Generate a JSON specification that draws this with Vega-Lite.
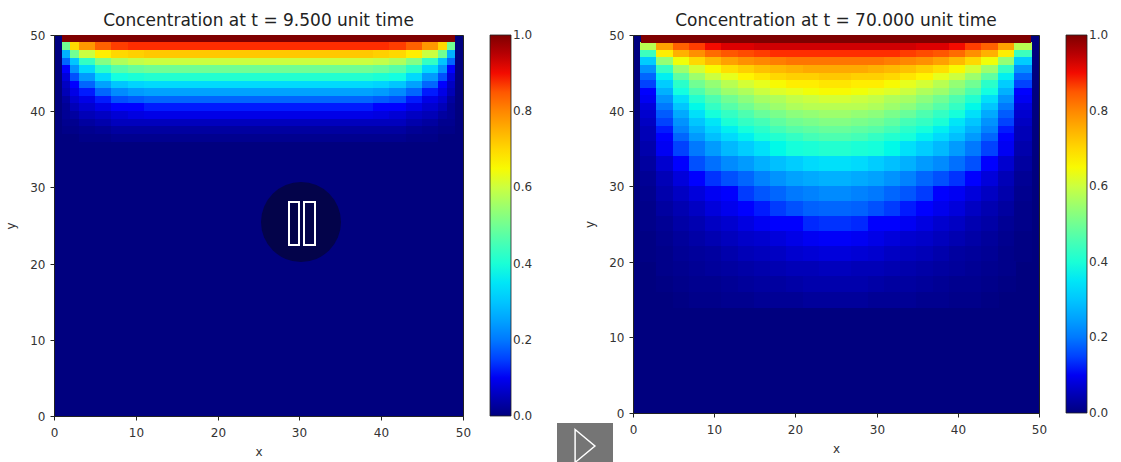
{"$schema":"https://vega.github.io/schema/vega-lite/v6.json","padding":{"left":4,"top":11,"right":0,"bottom":0},"background":"white","spacing":170,"bounds":"flush","resolve":{"scale":{"color":"independent"},"legend":{"color":"independent"}},"config":{"view":{"fill":"#00007f","stroke":"#222222"},"font":"DejaVu Sans","title":{"fontSize":17,"fontWeight":"normal","color":"#222222","offset":-1},"axis":{"grid":false,"labelFontSize":12,"titleFontSize":12,"titleFontWeight":"normal","labelColor":"#333333","titleColor":"#333333","domainColor":"#222222","tickColor":"#222222","tickSize":4,"labelPadding":7,"labelAngle":0,"tickCount":6,"labelFlush":false},"axisX":{"titlePadding":8},"axisY":{"labelPadding":5,"titlePadding":12},"legend":{"gradientThickness":21,"offset":27,"padding":0,"labelOffset":8,"labelFontSize":12,"labelColor":"#333333","gradientStrokeColor":"#222222","gradientStrokeWidth":0.8}},
"datasets":{
"T":[{"x":1,"b":49,"y":49.5,"c":1}],
"L":[{"x":1,"b":2,"y":48.5,"c":0.5},{"x":2,"b":3,"y":48.5,"c":0.7},{"x":3,"b":5,"y":48.5,"c":0.78},{"x":5,"b":7,"y":48.5,"c":0.84},{"x":7,"b":9,"y":48.5,"c":0.87},{"x":9,"b":11,"y":48.5,"c":0.88},{"x":11,"b":39,"y":48.5,"c":0.88},{"x":39,"b":41,"y":48.5,"c":0.88},{"x":41,"b":43,"y":48.5,"c":0.87},{"x":43,"b":45,"y":48.5,"c":0.84},{"x":45,"b":47,"y":48.5,"c":0.78},{"x":47,"b":48,"y":48.5,"c":0.7},{"x":48,"b":49,"y":48.5,"c":0.5},
{"x":1,"b":2,"y":47.5,"c":0.27},{"x":2,"b":3,"y":47.5,"c":0.5},{"x":3,"b":5,"y":47.5,"c":0.6},{"x":5,"b":7,"y":47.5,"c":0.67},{"x":7,"b":9,"y":47.5,"c":0.7},{"x":9,"b":11,"y":47.5,"c":0.71},{"x":11,"b":39,"y":47.5,"c":0.72},{"x":39,"b":41,"y":47.5,"c":0.71},{"x":41,"b":43,"y":47.5,"c":0.7},{"x":43,"b":45,"y":47.5,"c":0.67},{"x":45,"b":47,"y":47.5,"c":0.6},{"x":47,"b":48,"y":47.5,"c":0.5},{"x":48,"b":49,"y":47.5,"c":0.27},
{"x":1,"b":2,"y":46.5,"c":0.18},{"x":2,"b":3,"y":46.5,"c":0.3},{"x":3,"b":5,"y":46.5,"c":0.43},{"x":5,"b":7,"y":46.5,"c":0.52},{"x":7,"b":9,"y":46.5,"c":0.57},{"x":9,"b":11,"y":46.5,"c":0.59},{"x":11,"b":39,"y":46.5,"c":0.6},{"x":39,"b":41,"y":46.5,"c":0.59},{"x":41,"b":43,"y":46.5,"c":0.57},{"x":43,"b":45,"y":46.5,"c":0.52},{"x":45,"b":47,"y":46.5,"c":0.43},{"x":47,"b":48,"y":46.5,"c":0.3},{"x":48,"b":49,"y":46.5,"c":0.18},
{"x":1,"b":2,"y":45.5,"c":0.11},{"x":2,"b":3,"y":45.5,"c":0.23},{"x":3,"b":5,"y":45.5,"c":0.33},{"x":5,"b":7,"y":45.5,"c":0.42},{"x":7,"b":9,"y":45.5,"c":0.47},{"x":9,"b":11,"y":45.5,"c":0.49},{"x":11,"b":39,"y":45.5,"c":0.5},{"x":39,"b":41,"y":45.5,"c":0.49},{"x":41,"b":43,"y":45.5,"c":0.47},{"x":43,"b":45,"y":45.5,"c":0.42},{"x":45,"b":47,"y":45.5,"c":0.33},{"x":47,"b":48,"y":45.5,"c":0.23},{"x":48,"b":49,"y":45.5,"c":0.11},
{"x":1,"b":2,"y":44.5,"c":0.08},{"x":2,"b":3,"y":44.5,"c":0.16},{"x":3,"b":5,"y":44.5,"c":0.24},{"x":5,"b":7,"y":44.5,"c":0.33},{"x":7,"b":9,"y":44.5,"c":0.38},{"x":9,"b":11,"y":44.5,"c":0.4},{"x":11,"b":39,"y":44.5,"c":0.41},{"x":39,"b":41,"y":44.5,"c":0.4},{"x":41,"b":43,"y":44.5,"c":0.38},{"x":43,"b":45,"y":44.5,"c":0.33},{"x":45,"b":47,"y":44.5,"c":0.24},{"x":47,"b":48,"y":44.5,"c":0.16},{"x":48,"b":49,"y":44.5,"c":0.08},
{"x":1,"b":2,"y":43.5,"c":0.06},{"x":2,"b":3,"y":43.5,"c":0.12},{"x":3,"b":5,"y":43.5,"c":0.18},{"x":5,"b":7,"y":43.5,"c":0.25},{"x":7,"b":9,"y":43.5,"c":0.3},{"x":9,"b":11,"y":43.5,"c":0.32},{"x":11,"b":39,"y":43.5,"c":0.33},{"x":39,"b":41,"y":43.5,"c":0.32},{"x":41,"b":43,"y":43.5,"c":0.3},{"x":43,"b":45,"y":43.5,"c":0.25},{"x":45,"b":47,"y":43.5,"c":0.18},{"x":47,"b":48,"y":43.5,"c":0.12},{"x":48,"b":49,"y":43.5,"c":0.06},
{"x":1,"b":2,"y":42.5,"c":0.05},{"x":2,"b":3,"y":42.5,"c":0.09},{"x":3,"b":5,"y":42.5,"c":0.13},{"x":5,"b":7,"y":42.5,"c":0.18},{"x":7,"b":9,"y":42.5,"c":0.22},{"x":9,"b":11,"y":42.5,"c":0.24},{"x":11,"b":39,"y":42.5,"c":0.25},{"x":39,"b":41,"y":42.5,"c":0.24},{"x":41,"b":43,"y":42.5,"c":0.22},{"x":43,"b":45,"y":42.5,"c":0.18},{"x":45,"b":47,"y":42.5,"c":0.13},{"x":47,"b":48,"y":42.5,"c":0.09},{"x":48,"b":49,"y":42.5,"c":0.05},
{"x":1,"b":2,"y":41.5,"c":0.03},{"x":2,"b":3,"y":41.5,"c":0.07},{"x":3,"b":5,"y":41.5,"c":0.09},{"x":5,"b":7,"y":41.5,"c":0.13},{"x":7,"b":9,"y":41.5,"c":0.16},{"x":9,"b":11,"y":41.5,"c":0.17},{"x":11,"b":39,"y":41.5,"c":0.18},{"x":39,"b":41,"y":41.5,"c":0.17},{"x":41,"b":43,"y":41.5,"c":0.16},{"x":43,"b":45,"y":41.5,"c":0.13},{"x":45,"b":47,"y":41.5,"c":0.09},{"x":47,"b":48,"y":41.5,"c":0.07},{"x":48,"b":49,"y":41.5,"c":0.03},
{"x":1,"b":2,"y":40.5,"c":0.02},{"x":2,"b":3,"y":40.5,"c":0.05},{"x":3,"b":5,"y":40.5,"c":0.07},{"x":5,"b":7,"y":40.5,"c":0.09},{"x":7,"b":9,"y":40.5,"c":0.11},{"x":9,"b":11,"y":40.5,"c":0.12},{"x":11,"b":39,"y":40.5,"c":0.13},{"x":39,"b":41,"y":40.5,"c":0.12},{"x":41,"b":43,"y":40.5,"c":0.11},{"x":43,"b":45,"y":40.5,"c":0.09},{"x":45,"b":47,"y":40.5,"c":0.07},{"x":47,"b":48,"y":40.5,"c":0.05},{"x":48,"b":49,"y":40.5,"c":0.02},
{"x":1,"b":2,"y":39.5,"c":0.02},{"x":2,"b":3,"y":39.5,"c":0.03},{"x":3,"b":5,"y":39.5,"c":0.05},{"x":5,"b":7,"y":39.5,"c":0.06},{"x":7,"b":9,"y":39.5,"c":0.075},{"x":9,"b":11,"y":39.5,"c":0.085},{"x":11,"b":39,"y":39.5,"c":0.09},{"x":39,"b":41,"y":39.5,"c":0.085},{"x":41,"b":43,"y":39.5,"c":0.075},{"x":43,"b":45,"y":39.5,"c":0.06},{"x":45,"b":47,"y":39.5,"c":0.05},{"x":47,"b":48,"y":39.5,"c":0.03},{"x":48,"b":49,"y":39.5,"c":0.02},
{"x":1,"b":3,"y":38.5,"c":0.015},{"x":3,"b":5,"y":38.5,"c":0.03},{"x":5,"b":7,"y":38.5,"c":0.04},{"x":7,"b":43,"y":38.5,"c":0.055},{"x":43,"b":45,"y":38.5,"c":0.04},{"x":45,"b":47,"y":38.5,"c":0.03},{"x":47,"b":49,"y":38.5,"c":0.015},
{"x":1,"b":3,"y":37.5,"c":0.008},{"x":3,"b":5,"y":37.5,"c":0.015},{"x":5,"b":7,"y":37.5,"c":0.02},{"x":7,"b":43,"y":37.5,"c":0.03},{"x":43,"b":45,"y":37.5,"c":0.02},{"x":45,"b":47,"y":37.5,"c":0.015},{"x":47,"b":49,"y":37.5,"c":0.008},
{"x":3,"b":7,"y":36.5,"c":0.008},{"x":7,"b":43,"y":36.5,"c":0.015},{"x":43,"b":47,"y":36.5,"c":0.008}],
"R1":[
{"x":2,"y":48.5,"c":0.58},{"x":4,"y":48.5,"c":0.77},{"x":6,"y":48.5,"c":0.84},{"x":8,"y":48.5,"c":0.87},{"x":10,"y":48.5,"c":0.9},{"x":12,"y":48.5,"c":0.92},{"x":14,"y":48.5,"c":0.92},{"x":16,"y":48.5,"c":0.93},{"x":18,"y":48.5,"c":0.93},{"x":20,"y":48.5,"c":0.93},{"x":22,"y":48.5,"c":0.93},{"x":24,"y":48.5,"c":0.93},{"x":26,"y":48.5,"c":0.93},{"x":28,"y":48.5,"c":0.93},{"x":30,"y":48.5,"c":0.93},{"x":32,"y":48.5,"c":0.93},{"x":34,"y":48.5,"c":0.93},{"x":36,"y":48.5,"c":0.92},{"x":38,"y":48.5,"c":0.92},{"x":40,"y":48.5,"c":0.9},{"x":42,"y":48.5,"c":0.87},{"x":44,"y":48.5,"c":0.84},{"x":46,"y":48.5,"c":0.77},{"x":48,"y":48.5,"c":0.58},
{"x":2,"y":47.5,"c":0.44},{"x":4,"y":47.5,"c":0.67},{"x":6,"y":47.5,"c":0.75},{"x":8,"y":47.5,"c":0.79},{"x":10,"y":47.5,"c":0.83},{"x":12,"y":47.5,"c":0.85},{"x":14,"y":47.5,"c":0.86},{"x":16,"y":47.5,"c":0.87},{"x":18,"y":47.5,"c":0.88},{"x":20,"y":47.5,"c":0.88},{"x":22,"y":47.5,"c":0.88},{"x":24,"y":47.5,"c":0.88},{"x":26,"y":47.5,"c":0.88},{"x":28,"y":47.5,"c":0.88},{"x":30,"y":47.5,"c":0.88},{"x":32,"y":47.5,"c":0.88},{"x":34,"y":47.5,"c":0.87},{"x":36,"y":47.5,"c":0.86},{"x":38,"y":47.5,"c":0.85},{"x":40,"y":47.5,"c":0.83},{"x":42,"y":47.5,"c":0.79},{"x":44,"y":47.5,"c":0.75},{"x":46,"y":47.5,"c":0.67},{"x":48,"y":47.5,"c":0.44},
{"x":2,"y":46.5,"c":0.31},{"x":4,"y":46.5,"c":0.54},{"x":6,"y":46.5,"c":0.64},{"x":8,"y":46.5,"c":0.7},{"x":10,"y":46.5,"c":0.74},{"x":12,"y":46.5,"c":0.77},{"x":14,"y":46.5,"c":0.79},{"x":16,"y":46.5,"c":0.8},{"x":18,"y":46.5,"c":0.81},{"x":20,"y":46.5,"c":0.82},{"x":22,"y":46.5,"c":0.82},{"x":24,"y":46.5,"c":0.82},{"x":26,"y":46.5,"c":0.82},{"x":28,"y":46.5,"c":0.82},{"x":30,"y":46.5,"c":0.82},{"x":32,"y":46.5,"c":0.81},{"x":34,"y":46.5,"c":0.8},{"x":36,"y":46.5,"c":0.79},{"x":38,"y":46.5,"c":0.77},{"x":40,"y":46.5,"c":0.74},{"x":42,"y":46.5,"c":0.7},{"x":44,"y":46.5,"c":0.64},{"x":46,"y":46.5,"c":0.54},{"x":48,"y":46.5,"c":0.31},
{"x":2,"y":45.5,"c":0.23},{"x":4,"y":45.5,"c":0.43},{"x":6,"y":45.5,"c":0.55},{"x":8,"y":45.5,"c":0.61},{"x":10,"y":45.5,"c":0.65},{"x":12,"y":45.5,"c":0.69},{"x":14,"y":45.5,"c":0.71},{"x":16,"y":45.5,"c":0.73},{"x":18,"y":45.5,"c":0.74},{"x":20,"y":45.5,"c":0.75},{"x":22,"y":45.5,"c":0.76},{"x":24,"y":45.5,"c":0.76},{"x":26,"y":45.5,"c":0.76},{"x":28,"y":45.5,"c":0.76},{"x":30,"y":45.5,"c":0.75},{"x":32,"y":45.5,"c":0.74},{"x":34,"y":45.5,"c":0.73},{"x":36,"y":45.5,"c":0.71},{"x":38,"y":45.5,"c":0.69},{"x":40,"y":45.5,"c":0.65},{"x":42,"y":45.5,"c":0.61},{"x":44,"y":45.5,"c":0.55},{"x":46,"y":45.5,"c":0.43},{"x":48,"y":45.5,"c":0.23},
{"x":2,"y":44.5,"c":0.18},{"x":4,"y":44.5,"c":0.36},{"x":6,"y":44.5,"c":0.48},{"x":8,"y":44.5,"c":0.55},{"x":10,"y":44.5,"c":0.6},{"x":12,"y":44.5,"c":0.63},{"x":14,"y":44.5,"c":0.66},{"x":16,"y":44.5,"c":0.68},{"x":18,"y":44.5,"c":0.7},{"x":20,"y":44.5,"c":0.71},{"x":22,"y":44.5,"c":0.71},{"x":24,"y":44.5,"c":0.72},{"x":26,"y":44.5,"c":0.72},{"x":28,"y":44.5,"c":0.71},{"x":30,"y":44.5,"c":0.71},{"x":32,"y":44.5,"c":0.7},{"x":34,"y":44.5,"c":0.68},{"x":36,"y":44.5,"c":0.66},{"x":38,"y":44.5,"c":0.63},{"x":40,"y":44.5,"c":0.6},{"x":42,"y":44.5,"c":0.55},{"x":44,"y":44.5,"c":0.48},{"x":46,"y":44.5,"c":0.36},{"x":48,"y":44.5,"c":0.18},
{"x":2,"y":43.5,"c":0.15},{"x":4,"y":43.5,"c":0.31},{"x":6,"y":43.5,"c":0.42},{"x":8,"y":43.5,"c":0.5},{"x":10,"y":43.5,"c":0.54},{"x":12,"y":43.5,"c":0.58},{"x":14,"y":43.5,"c":0.61},{"x":16,"y":43.5,"c":0.63},{"x":18,"y":43.5,"c":0.65},{"x":20,"y":43.5,"c":0.67},{"x":22,"y":43.5,"c":0.67},{"x":24,"y":43.5,"c":0.68},{"x":26,"y":43.5,"c":0.68},{"x":28,"y":43.5,"c":0.67},{"x":30,"y":43.5,"c":0.67},{"x":32,"y":43.5,"c":0.65},{"x":34,"y":43.5,"c":0.63},{"x":36,"y":43.5,"c":0.61},{"x":38,"y":43.5,"c":0.58},{"x":40,"y":43.5,"c":0.54},{"x":42,"y":43.5,"c":0.5},{"x":44,"y":43.5,"c":0.42},{"x":46,"y":43.5,"c":0.31},{"x":48,"y":43.5,"c":0.15},
{"x":2,"y":42.5,"c":0.12},{"x":4,"y":42.5,"c":0.27},{"x":6,"y":42.5,"c":0.38},{"x":8,"y":42.5,"c":0.46},{"x":10,"y":42.5,"c":0.51},{"x":12,"y":42.5,"c":0.55},{"x":14,"y":42.5,"c":0.57},{"x":16,"y":42.5,"c":0.6},{"x":18,"y":42.5,"c":0.62},{"x":20,"y":42.5,"c":0.63},{"x":22,"y":42.5,"c":0.64},{"x":24,"y":42.5,"c":0.65},{"x":26,"y":42.5,"c":0.65},{"x":28,"y":42.5,"c":0.64},{"x":30,"y":42.5,"c":0.63},{"x":32,"y":42.5,"c":0.62},{"x":34,"y":42.5,"c":0.6},{"x":36,"y":42.5,"c":0.57},{"x":38,"y":42.5,"c":0.55},{"x":40,"y":42.5,"c":0.51},{"x":42,"y":42.5,"c":0.46},{"x":44,"y":42.5,"c":0.38},{"x":46,"y":42.5,"c":0.27},{"x":48,"y":42.5,"c":0.12},
{"x":2,"y":41.5,"c":0.1},{"x":4,"y":41.5,"c":0.23},{"x":6,"y":41.5,"c":0.34},{"x":8,"y":41.5,"c":0.41},{"x":10,"y":41.5,"c":0.46},{"x":12,"y":41.5,"c":0.5},{"x":14,"y":41.5,"c":0.53},{"x":16,"y":41.5,"c":0.56},{"x":18,"y":41.5,"c":0.57},{"x":20,"y":41.5,"c":0.59},{"x":22,"y":41.5,"c":0.6},{"x":24,"y":41.5,"c":0.61},{"x":26,"y":41.5,"c":0.61},{"x":28,"y":41.5,"c":0.6},{"x":30,"y":41.5,"c":0.59},{"x":32,"y":41.5,"c":0.57},{"x":34,"y":41.5,"c":0.56},{"x":36,"y":41.5,"c":0.53},{"x":38,"y":41.5,"c":0.5},{"x":40,"y":41.5,"c":0.46},{"x":42,"y":41.5,"c":0.41},{"x":44,"y":41.5,"c":0.34},{"x":46,"y":41.5,"c":0.23},{"x":48,"y":41.5,"c":0.1},
{"x":2,"y":40.5,"c":0.08},{"x":4,"y":40.5,"c":0.2},{"x":6,"y":40.5,"c":0.3},{"x":8,"y":40.5,"c":0.37},{"x":10,"y":40.5,"c":0.43},{"x":12,"y":40.5,"c":0.47},{"x":14,"y":40.5,"c":0.5},{"x":16,"y":40.5,"c":0.53},{"x":18,"y":40.5,"c":0.55},{"x":20,"y":40.5,"c":0.57},{"x":22,"y":40.5,"c":0.58},{"x":24,"y":40.5,"c":0.58},{"x":26,"y":40.5,"c":0.58},{"x":28,"y":40.5,"c":0.58},{"x":30,"y":40.5,"c":0.57},{"x":32,"y":40.5,"c":0.55},{"x":34,"y":40.5,"c":0.53},{"x":36,"y":40.5,"c":0.5},{"x":38,"y":40.5,"c":0.47},{"x":40,"y":40.5,"c":0.43},{"x":42,"y":40.5,"c":0.37},{"x":44,"y":40.5,"c":0.3},{"x":46,"y":40.5,"c":0.2},{"x":48,"y":40.5,"c":0.08},
{"x":2,"y":39.5,"c":0.07},{"x":4,"y":39.5,"c":0.17},{"x":6,"y":39.5,"c":0.26},{"x":8,"y":39.5,"c":0.34},{"x":10,"y":39.5,"c":0.39},{"x":12,"y":39.5,"c":0.43},{"x":14,"y":39.5,"c":0.46},{"x":16,"y":39.5,"c":0.49},{"x":18,"y":39.5,"c":0.51},{"x":20,"y":39.5,"c":0.53},{"x":22,"y":39.5,"c":0.54},{"x":24,"y":39.5,"c":0.55},{"x":26,"y":39.5,"c":0.55},{"x":28,"y":39.5,"c":0.54},{"x":30,"y":39.5,"c":0.53},{"x":32,"y":39.5,"c":0.51},{"x":34,"y":39.5,"c":0.49},{"x":36,"y":39.5,"c":0.46},{"x":38,"y":39.5,"c":0.43},{"x":40,"y":39.5,"c":0.39},{"x":42,"y":39.5,"c":0.34},{"x":44,"y":39.5,"c":0.26},{"x":46,"y":39.5,"c":0.17},{"x":48,"y":39.5,"c":0.07},
{"x":2,"y":38.5,"c":0.06},{"x":4,"y":38.5,"c":0.15},{"x":6,"y":38.5,"c":0.23},{"x":8,"y":38.5,"c":0.3},{"x":10,"y":38.5,"c":0.35},{"x":12,"y":38.5,"c":0.4},{"x":14,"y":38.5,"c":0.43},{"x":16,"y":38.5,"c":0.45},{"x":18,"y":38.5,"c":0.48},{"x":20,"y":38.5,"c":0.5},{"x":22,"y":38.5,"c":0.51},{"x":24,"y":38.5,"c":0.52},{"x":26,"y":38.5,"c":0.52},{"x":28,"y":38.5,"c":0.51},{"x":30,"y":38.5,"c":0.5},{"x":32,"y":38.5,"c":0.48},{"x":34,"y":38.5,"c":0.45},{"x":36,"y":38.5,"c":0.43},{"x":38,"y":38.5,"c":0.4},{"x":40,"y":38.5,"c":0.35},{"x":42,"y":38.5,"c":0.3},{"x":44,"y":38.5,"c":0.23},{"x":46,"y":38.5,"c":0.15},{"x":48,"y":38.5,"c":0.06},
{"x":2,"y":37.5,"c":0.05},{"x":4,"y":37.5,"c":0.13},{"x":6,"y":37.5,"c":0.21},{"x":8,"y":37.5,"c":0.27},{"x":10,"y":37.5,"c":0.32},{"x":12,"y":37.5,"c":0.36},{"x":14,"y":37.5,"c":0.39},{"x":16,"y":37.5,"c":0.42},{"x":18,"y":37.5,"c":0.45},{"x":20,"y":37.5,"c":0.47},{"x":22,"y":37.5,"c":0.48},{"x":24,"y":37.5,"c":0.49},{"x":26,"y":37.5,"c":0.49},{"x":28,"y":37.5,"c":0.48},{"x":30,"y":37.5,"c":0.47},{"x":32,"y":37.5,"c":0.45},{"x":34,"y":37.5,"c":0.42},{"x":36,"y":37.5,"c":0.39},{"x":38,"y":37.5,"c":0.36},{"x":40,"y":37.5,"c":0.32},{"x":42,"y":37.5,"c":0.27},{"x":44,"y":37.5,"c":0.21},{"x":46,"y":37.5,"c":0.13},{"x":48,"y":37.5,"c":0.05},
{"x":2,"y":36.5,"c":0.05},{"x":4,"y":36.5,"c":0.12},{"x":6,"y":36.5,"c":0.18},{"x":8,"y":36.5,"c":0.24},{"x":10,"y":36.5,"c":0.29},{"x":12,"y":36.5,"c":0.33},{"x":14,"y":36.5,"c":0.36},{"x":16,"y":36.5,"c":0.39},{"x":18,"y":36.5,"c":0.41},{"x":20,"y":36.5,"c":0.43},{"x":22,"y":36.5,"c":0.45},{"x":24,"y":36.5,"c":0.46},{"x":26,"y":36.5,"c":0.46},{"x":28,"y":36.5,"c":0.45},{"x":30,"y":36.5,"c":0.43},{"x":32,"y":36.5,"c":0.41},{"x":34,"y":36.5,"c":0.39},{"x":36,"y":36.5,"c":0.36},{"x":38,"y":36.5,"c":0.33},{"x":40,"y":36.5,"c":0.29},{"x":42,"y":36.5,"c":0.24},{"x":44,"y":36.5,"c":0.18},{"x":46,"y":36.5,"c":0.12},{"x":48,"y":36.5,"c":0.05}],
"R2":[
{"x":2,"y":35,"c":0.04},{"x":4,"y":35,"c":0.1},{"x":6,"y":35,"c":0.15},{"x":8,"y":35,"c":0.2},{"x":10,"y":35,"c":0.24},{"x":12,"y":35,"c":0.28},{"x":14,"y":35,"c":0.31},{"x":16,"y":35,"c":0.34},{"x":18,"y":35,"c":0.37},{"x":20,"y":35,"c":0.39},{"x":22,"y":35,"c":0.4},{"x":24,"y":35,"c":0.41},{"x":26,"y":35,"c":0.41},{"x":28,"y":35,"c":0.4},{"x":30,"y":35,"c":0.39},{"x":32,"y":35,"c":0.37},{"x":34,"y":35,"c":0.34},{"x":36,"y":35,"c":0.31},{"x":38,"y":35,"c":0.28},{"x":40,"y":35,"c":0.24},{"x":42,"y":35,"c":0.2},{"x":44,"y":35,"c":0.15},{"x":46,"y":35,"c":0.1},{"x":48,"y":35,"c":0.04},
{"x":2,"y":33,"c":0.03},{"x":4,"y":33,"c":0.07},{"x":6,"y":33,"c":0.11},{"x":8,"y":33,"c":0.16},{"x":10,"y":33,"c":0.19},{"x":12,"y":33,"c":0.22},{"x":14,"y":33,"c":0.24},{"x":16,"y":33,"c":0.27},{"x":18,"y":33,"c":0.29},{"x":20,"y":33,"c":0.31},{"x":22,"y":33,"c":0.33},{"x":24,"y":33,"c":0.34},{"x":26,"y":33,"c":0.34},{"x":28,"y":33,"c":0.33},{"x":30,"y":33,"c":0.31},{"x":32,"y":33,"c":0.29},{"x":34,"y":33,"c":0.27},{"x":36,"y":33,"c":0.24},{"x":38,"y":33,"c":0.22},{"x":40,"y":33,"c":0.19},{"x":42,"y":33,"c":0.16},{"x":44,"y":33,"c":0.11},{"x":46,"y":33,"c":0.07},{"x":48,"y":33,"c":0.03},
{"x":2,"y":31,"c":0.02},{"x":4,"y":31,"c":0.05},{"x":6,"y":31,"c":0.08},{"x":8,"y":31,"c":0.11},{"x":10,"y":31,"c":0.14},{"x":12,"y":31,"c":0.16},{"x":14,"y":31,"c":0.18},{"x":16,"y":31,"c":0.21},{"x":18,"y":31,"c":0.23},{"x":20,"y":31,"c":0.25},{"x":22,"y":31,"c":0.26},{"x":24,"y":31,"c":0.27},{"x":26,"y":31,"c":0.27},{"x":28,"y":31,"c":0.26},{"x":30,"y":31,"c":0.25},{"x":32,"y":31,"c":0.23},{"x":34,"y":31,"c":0.21},{"x":36,"y":31,"c":0.18},{"x":38,"y":31,"c":0.16},{"x":40,"y":31,"c":0.14},{"x":42,"y":31,"c":0.11},{"x":44,"y":31,"c":0.08},{"x":46,"y":31,"c":0.05},{"x":48,"y":31,"c":0.02},
{"x":2,"y":29,"c":0.015},{"x":4,"y":29,"c":0.04},{"x":6,"y":29,"c":0.06},{"x":8,"y":29,"c":0.08},{"x":10,"y":29,"c":0.1},{"x":12,"y":29,"c":0.125},{"x":14,"y":29,"c":0.145},{"x":16,"y":29,"c":0.165},{"x":18,"y":29,"c":0.18},{"x":20,"y":29,"c":0.2},{"x":22,"y":29,"c":0.21},{"x":24,"y":29,"c":0.22},{"x":26,"y":29,"c":0.22},{"x":28,"y":29,"c":0.21},{"x":30,"y":29,"c":0.2},{"x":32,"y":29,"c":0.18},{"x":34,"y":29,"c":0.165},{"x":36,"y":29,"c":0.145},{"x":38,"y":29,"c":0.125},{"x":40,"y":29,"c":0.1},{"x":42,"y":29,"c":0.08},{"x":44,"y":29,"c":0.06},{"x":46,"y":29,"c":0.04},{"x":48,"y":29,"c":0.015},
{"x":2,"y":27,"c":0.01},{"x":4,"y":27,"c":0.03},{"x":6,"y":27,"c":0.045},{"x":8,"y":27,"c":0.06},{"x":10,"y":27,"c":0.08},{"x":12,"y":27,"c":0.095},{"x":14,"y":27,"c":0.11},{"x":16,"y":27,"c":0.13},{"x":18,"y":27,"c":0.145},{"x":20,"y":27,"c":0.16},{"x":22,"y":27,"c":0.175},{"x":24,"y":27,"c":0.18},{"x":26,"y":27,"c":0.18},{"x":28,"y":27,"c":0.175},{"x":30,"y":27,"c":0.16},{"x":32,"y":27,"c":0.145},{"x":34,"y":27,"c":0.13},{"x":36,"y":27,"c":0.11},{"x":38,"y":27,"c":0.095},{"x":40,"y":27,"c":0.08},{"x":42,"y":27,"c":0.06},{"x":44,"y":27,"c":0.045},{"x":46,"y":27,"c":0.03},{"x":48,"y":27,"c":0.01},
{"x":2,"y":25,"c":0.01},{"x":4,"y":25,"c":0.02},{"x":6,"y":25,"c":0.035},{"x":8,"y":25,"c":0.045},{"x":10,"y":25,"c":0.06},{"x":12,"y":25,"c":0.07},{"x":14,"y":25,"c":0.085},{"x":16,"y":25,"c":0.1},{"x":18,"y":25,"c":0.115},{"x":20,"y":25,"c":0.125},{"x":22,"y":25,"c":0.135},{"x":24,"y":25,"c":0.14},{"x":26,"y":25,"c":0.14},{"x":28,"y":25,"c":0.135},{"x":30,"y":25,"c":0.125},{"x":32,"y":25,"c":0.115},{"x":34,"y":25,"c":0.1},{"x":36,"y":25,"c":0.085},{"x":38,"y":25,"c":0.07},{"x":40,"y":25,"c":0.06},{"x":42,"y":25,"c":0.045},{"x":44,"y":25,"c":0.035},{"x":46,"y":25,"c":0.02},{"x":48,"y":25,"c":0.01},
{"x":2,"y":23,"c":0.005},{"x":4,"y":23,"c":0.015},{"x":6,"y":23,"c":0.025},{"x":8,"y":23,"c":0.035},{"x":10,"y":23,"c":0.045},{"x":12,"y":23,"c":0.055},{"x":14,"y":23,"c":0.065},{"x":16,"y":23,"c":0.07},{"x":18,"y":23,"c":0.08},{"x":20,"y":23,"c":0.09},{"x":22,"y":23,"c":0.1},{"x":24,"y":23,"c":0.105},{"x":26,"y":23,"c":0.105},{"x":28,"y":23,"c":0.1},{"x":30,"y":23,"c":0.09},{"x":32,"y":23,"c":0.08},{"x":34,"y":23,"c":0.07},{"x":36,"y":23,"c":0.065},{"x":38,"y":23,"c":0.055},{"x":40,"y":23,"c":0.045},{"x":42,"y":23,"c":0.035},{"x":44,"y":23,"c":0.025},{"x":46,"y":23,"c":0.015},{"x":48,"y":23,"c":0.005},
{"x":2,"y":21,"c":0.005},{"x":4,"y":21,"c":0.01},{"x":6,"y":21,"c":0.02},{"x":8,"y":21,"c":0.025},{"x":10,"y":21,"c":0.03},{"x":12,"y":21,"c":0.04},{"x":14,"y":21,"c":0.05},{"x":16,"y":21,"c":0.055},{"x":18,"y":21,"c":0.06},{"x":20,"y":21,"c":0.07},{"x":22,"y":21,"c":0.075},{"x":24,"y":21,"c":0.08},{"x":26,"y":21,"c":0.08},{"x":28,"y":21,"c":0.075},{"x":30,"y":21,"c":0.07},{"x":32,"y":21,"c":0.06},{"x":34,"y":21,"c":0.055},{"x":36,"y":21,"c":0.05},{"x":38,"y":21,"c":0.04},{"x":40,"y":21,"c":0.03},{"x":42,"y":21,"c":0.025},{"x":44,"y":21,"c":0.02},{"x":46,"y":21,"c":0.01},{"x":48,"y":21,"c":0.005},
{"x":4,"y":19,"c":0.01},{"x":6,"y":19,"c":0.015},{"x":8,"y":19,"c":0.02},{"x":10,"y":19,"c":0.025},{"x":12,"y":19,"c":0.03},{"x":14,"y":19,"c":0.035},{"x":16,"y":19,"c":0.04},{"x":18,"y":19,"c":0.045},{"x":20,"y":19,"c":0.05},{"x":22,"y":19,"c":0.05},{"x":24,"y":19,"c":0.055},{"x":26,"y":19,"c":0.055},{"x":28,"y":19,"c":0.05},{"x":30,"y":19,"c":0.05},{"x":32,"y":19,"c":0.045},{"x":34,"y":19,"c":0.04},{"x":36,"y":19,"c":0.035},{"x":38,"y":19,"c":0.03},{"x":40,"y":19,"c":0.025},{"x":42,"y":19,"c":0.02},{"x":44,"y":19,"c":0.015},{"x":46,"y":19,"c":0.01},
{"x":4,"y":17,"c":0.005},{"x":6,"y":17,"c":0.01},{"x":8,"y":17,"c":0.015},{"x":10,"y":17,"c":0.015},{"x":12,"y":17,"c":0.02},{"x":14,"y":17,"c":0.025},{"x":16,"y":17,"c":0.03},{"x":18,"y":17,"c":0.03},{"x":20,"y":17,"c":0.035},{"x":22,"y":17,"c":0.04},{"x":24,"y":17,"c":0.04},{"x":26,"y":17,"c":0.04},{"x":28,"y":17,"c":0.04},{"x":30,"y":17,"c":0.035},{"x":32,"y":17,"c":0.03},{"x":34,"y":17,"c":0.03},{"x":36,"y":17,"c":0.025},{"x":38,"y":17,"c":0.02},{"x":40,"y":17,"c":0.015},{"x":42,"y":17,"c":0.015},{"x":44,"y":17,"c":0.01},{"x":46,"y":17,"c":0.005},
{"x":6,"y":15,"c":0.005},{"x":8,"y":15,"c":0.01},{"x":10,"y":15,"c":0.01},{"x":12,"y":15,"c":0.015},{"x":14,"y":15,"c":0.015},{"x":16,"y":15,"c":0.02},{"x":18,"y":15,"c":0.02},{"x":20,"y":15,"c":0.02},{"x":22,"y":15,"c":0.025},{"x":24,"y":15,"c":0.025},{"x":26,"y":15,"c":0.025},{"x":28,"y":15,"c":0.025},{"x":30,"y":15,"c":0.02},{"x":32,"y":15,"c":0.02},{"x":34,"y":15,"c":0.02},{"x":36,"y":15,"c":0.015},{"x":38,"y":15,"c":0.015},{"x":40,"y":15,"c":0.01},{"x":42,"y":15,"c":0.01},{"x":44,"y":15,"c":0.005}]
},
"hconcat":[
{"width":409,"height":381,"title":"Concentration at t = 9.500 unit time",
"encoding":{"x":{"field":"x","type":"quantitative","title":"x","scale":{"domain":[0,50],"nice":false,"round":true},"axis":{"values":[0,10,20,30,40,50]}},"y":{"field":"y","type":"quantitative","title":"y","scale":{"domain":[0,50],"nice":false,"round":true},"axis":{"values":[0,10,20,30,40,50]}}},
"layer":[
{"data":{"name":"T"},"mark":{"type":"rect","height":8},"encoding":{"x2":{"field":"b"},"color":{"field":"c","type":"quantitative","scale":{"domain":[0,0.11,0.125,0.35,0.375,0.64,0.66,0.89,0.91,1],"range":["#00007f","#0000ff","#0000ff","#00e6f7","#14ffe3","#f0ff08","#fff500","#ff1400","#e80000","#7f0000"]},"legend":{"title":null,"values":[0,0.2,0.4,0.6,0.8,1],"format":".1f","gradientLength":381,"encoding":{"labels":{"baseline":{"value":"middle"}}}}}}},
{"data":{"name":"L"},"mark":{"type":"rect","height":8},"encoding":{"x2":{"field":"b"},"color":{"field":"c","type":"quantitative","scale":{"domain":[0,0.11,0.125,0.35,0.375,0.64,0.66,0.89,0.91,1],"range":["#00007f","#0000ff","#0000ff","#00e6f7","#14ffe3","#f0ff08","#fff500","#ff1400","#e80000","#7f0000"]},"legend":{"title":null,"values":[0,0.2,0.4,0.6,0.8,1],"format":".1f","gradientLength":381,"encoding":{"labels":{"baseline":{"value":"middle"}}}}}}},
{"data":{"values":[{"x":30.2,"y":25.4}]},"mark":{"type":"point","shape":"circle","filled":true,"size":6400,"opacity":1,"color":"#03034a"}},
{"data":{"values":[{"x":28.7,"b":29.9,"y":22.5,"z":28.1},{"x":30.6,"b":31.9,"y":22.5,"z":28.1}]},"mark":{"type":"rect","filled":false,"strokeWidth":2,"stroke":"white"},"encoding":{"x2":{"field":"b"},"y2":{"field":"z"}}},
{"data":{"values":[{"x":61.5,"b":68.3,"y":-0.9,"z":-6}]},"mark":{"type":"rect","color":"#757575"},"encoding":{"x2":{"field":"b"},"y2":{"field":"z"}}},
{"data":{"values":[{"x":64.9,"y":-3.9}]},"mark":{"type":"point","shape":"M-0.6,-1L0.6,0L-0.6,1Z","filled":false,"size":1089,"strokeWidth":1.5,"opacity":1,"stroke":"white"}}
]},
{"width":406,"height":378,"title":"Concentration at t = 70.000 unit time",
"encoding":{"x":{"field":"x","type":"quantitative","title":"x","scale":{"domain":[0,50],"nice":false,"round":true},"axis":{"values":[0,10,20,30,40,50]}},"y":{"field":"y","type":"quantitative","title":"y","scale":{"domain":[0,50],"nice":false,"round":true},"axis":{"values":[0,10,20,30,40,50]}},"color":{"field":"c","type":"quantitative","scale":{"domain":[0,0.11,0.125,0.35,0.375,0.64,0.66,0.89,0.91,1],"range":["#00007f","#0000ff","#0000ff","#00e6f7","#14ffe3","#f0ff08","#fff500","#ff1400","#e80000","#7f0000"]},"legend":{"title":null,"values":[0,0.2,0.4,0.6,0.8,1],"format":".1f","gradientLength":378,"encoding":{"labels":{"baseline":{"value":"middle"}}}}}},
"layer":[
{"data":{"name":"R2"},"mark":{"type":"rect","width":18,"height":16}},
{"data":{"name":"R1"},"mark":{"type":"rect","width":18,"height":8}},
{"data":{"name":"T"},"mark":{"type":"rect","height":8},"encoding":{"x2":{"field":"b"}}}
]}
]}
